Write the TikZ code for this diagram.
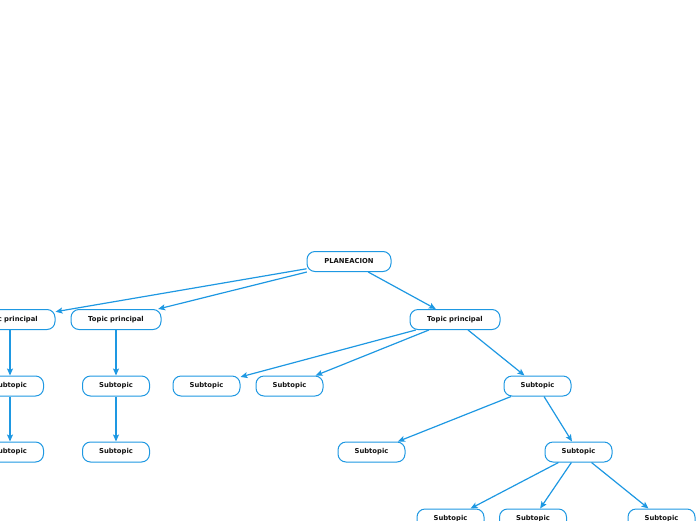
\documentclass[tikz,border=0pt]{standalone}
\usepackage{fontspec}
\setmainfont{DejaVu Sans}
\usetikzlibrary{arrows.meta}
\definecolor{mapblue}{RGB}{30,152,226}
\definecolor{mapink}{RGB}{20,20,20}

\begin{document}
\begin{tikzpicture}[
  x=1pt, y=-1pt,
  box/.style={rectangle, draw=mapblue, fill=white, rounded corners=8pt,
              line width=1pt, minimum height=20pt, inner sep=0pt,
              font=\fontsize{6.8}{8}\selectfont\bfseries, text=mapink},
  root/.style={box, minimum width=84pt},
  topic/.style={box, minimum width=90pt},
  subtopic/.style={box, minimum width=67pt},
  link/.style={-{Stealth[length=7pt,width=6pt,inset=1.5pt]}, draw=mapblue, line width=1.2pt},
]
  \useasboundingbox (0,0) rectangle (696,520);
  \clip (0,0) rectangle (696,520);

  \node[root] (plan) at (349,261.5) {PLANEACION};

  \node[topic] (tpa) at (10,319.5) {Topic principal};
  \node[topic] (tpb) at (116,319.5) {Topic principal};
  \node[topic] (tpc) at (455,319.5) {Topic principal};

  \node[subtopic] (sa1) at (10,386) {Subtopic};
  \node[subtopic] (sa2) at (10,452) {Subtopic};
  \node[subtopic] (sb1) at (116,386) {Subtopic};
  \node[subtopic] (sb2) at (116,452) {Subtopic};

  \node[subtopic] (sc1) at (206.5,386) {Subtopic};
  \node[subtopic] (sc2) at (289.5,386) {Subtopic};
  \node[subtopic] (sc3) at (537.5,386) {Subtopic};

  \node[subtopic] (sd1) at (371.5,452) {Subtopic};
  \node[subtopic] (sd2) at (578.5,452) {Subtopic};

  \node[subtopic] (se1) at (450.5,519) {Subtopic};
  \node[subtopic] (se2) at (533,519) {Subtopic};
  \node[subtopic] (se3) at (661.5,519) {Subtopic};

  \foreach \t in {tpa, tpb, tpc}
    \draw[link] (plan) -- (\t);

  \draw[link] (tpa) -- (sa1);
  \draw[link] (sa1) -- (sa2);
  \draw[link] (tpb) -- (sb1);
  \draw[link] (sb1) -- (sb2);

  \foreach \s in {sc1, sc2, sc3}
    \draw[link] (tpc) -- (\s);

  \draw[link] (sc3) -- (sd1);
  \draw[link] (sc3) -- (sd2);

  \foreach \s in {se1, se2, se3}
    \draw[link] (sd2) -- (\s);
\end{tikzpicture}
\end{document}
